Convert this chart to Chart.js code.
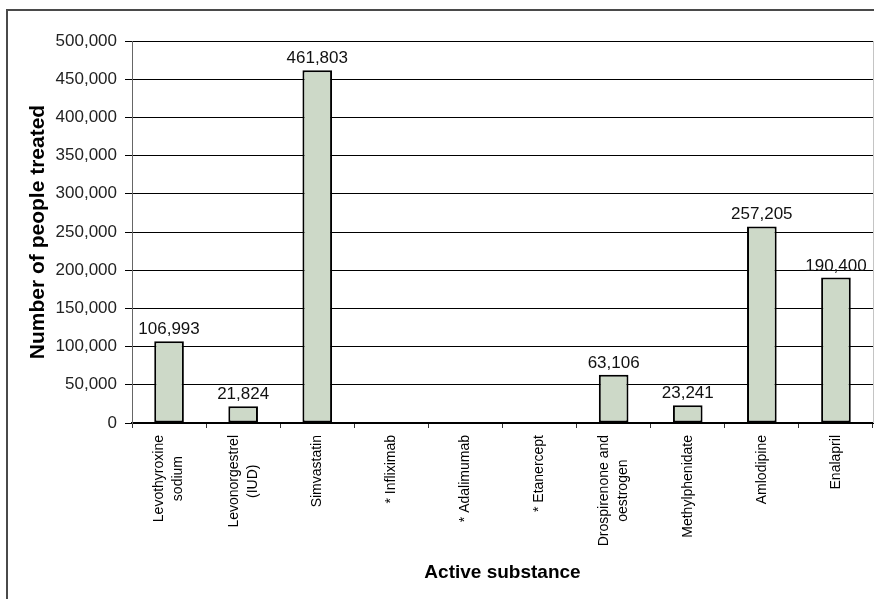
<!DOCTYPE html>
<html>
<head>
<meta charset="utf-8">
<title>Number of people treated by active substance</title>
<script src="https://cdn.jsdelivr.net/npm/chart.js@4/dist/chart.umd.min.js"></script>
<style>
  html, body { margin: 0; padding: 0; background: #ffffff; }
  #wrap { width: 874px; height: 599px; position: relative; }
  canvas { display: block; }
</style>
</head>
<body>
<div id="wrap"><canvas id="chart" width="874" height="599"></canvas></div>
<script>
// Category labels (each entry is the lines of one label)
const substances = [
  ['Levothyroxine', 'sodium'],
  ['Levonorgestrel', '(IUD)'],
  ['Simvastatin'],
  ['* Infliximab'],
  ['* Adalimumab'],
  ['* Etanercept'],
  ['Drospirenone and', 'oestrogen'],
  ['Methylphenidate'],
  ['Amlodipine'],
  ['Enalapril']
];

// Number of people treated per substance (no figure for the starred ones)
const peopleTreated = [106993, 21824, 461803, null, null, null, 63106, 23241, 257205, 190400];

// Value axis range
const yMin = 0;
const yMax = 500000;
const yStep = 50000;

const FONT = "'Liberation Sans', Arial, Helvetica, sans-serif";

function withCommas(n) {
  return String(n).replace(/\B(?=(\d{3})+(?!\d))/g, ',');
}

const decorations = {
  id: 'decorations',
  beforeDraw(chart) {
    const ctx = chart.ctx;
    ctx.save();
    // outer frame (left and top edges)
    ctx.strokeStyle = '#4a4a4a';
    ctx.lineWidth = 2;
    ctx.beginPath();
    ctx.moveTo(7, 599);
    ctx.lineTo(7, 10);
    ctx.lineTo(874, 10);
    ctx.stroke();
    ctx.restore();
  },
  afterDraw(chart) {
    const ctx = chart.ctx;
    const xs = chart.scales.x;
    const area = chart.chartArea;

    // light right edge of the plot area
    ctx.save();
    ctx.strokeStyle = '#c4c4c4';
    ctx.lineWidth = 1;
    ctx.beginPath();
    ctx.moveTo(area.right + 0.5, area.top);
    ctx.lineTo(area.right + 0.5, area.bottom);
    ctx.stroke();
    ctx.restore();

    // rotated category labels, lines centred on each other
    ctx.save();
    ctx.font = '14px ' + FONT;
    ctx.fillStyle = '#000000';
    ctx.textAlign = 'center';
    ctx.textBaseline = 'middle';
    const lineGap = 19;
    chart.data.labels.forEach((lines, i) => {
      const x = xs.getPixelForValue(i);
      const w = Math.max(...lines.map(l => ctx.measureText(l).width));
      const yc = area.bottom + 12 + w / 2;
      ctx.save();
      ctx.translate(x, yc);
      ctx.rotate(-Math.PI / 2);
      lines.forEach((line, j) => {
        ctx.fillText(line, 0, (j - (lines.length - 1) / 2) * lineGap);
      });
      ctx.restore();
    });
    ctx.restore();

    // value labels above the bars
    ctx.save();
    ctx.font = '17px ' + FONT;
    ctx.fillStyle = '#111111';
    ctx.textAlign = 'center';
    ctx.textBaseline = 'alphabetic';
    const meta = chart.getDatasetMeta(0);
    meta.data.forEach((bar, i) => {
      const v = chart.data.datasets[0].data[i];
      if (v === null || v === undefined) return;
      ctx.fillText(withCommas(v), bar.x, bar.y - 7);
    });
    ctx.restore();
  }
};

new Chart(document.getElementById('chart'), {
  type: 'bar',
  data: {
    labels: substances,
    datasets: [{
      data: peopleTreated,
      backgroundColor: '#cdd9c8',
      borderColor: '#000000',
      borderWidth: 2,
      borderSkipped: false,
      categoryPercentage: 1.0,
      barPercentage: 0.4
    }]
  },
  options: {
    responsive: false,
    devicePixelRatio: 1,
    animation: false,
    layout: { padding: { left: 26, top: 41, right: 1, bottom: 15 } },
    plugins: {
      legend: { display: false },
      tooltip: { enabled: false },
      title: { display: false }
    },
    scales: {
      x: {
        type: 'category',
        offset: true,
        afterFit(scale) { scale.height = 161; },
        grid: {
          display: true,
          offset: true,
          drawOnChartArea: false,
          drawTicks: true,
          tickLength: 5,
          color: '#333333',
          lineWidth: 1
        },
        border: { display: true, color: '#000000', width: 2 },
        ticks: { display: false },
        title: {
          display: true,
          text: 'Active substance',
          color: '#000000',
          font: { family: FONT, size: 19, weight: 'bold' },
          padding: 0
        }
      },
      y: {
        min: yMin,
        max: yMax,
        afterFit(scale) { scale.width = 106; },
        grid: {
          color: '#000000',
          lineWidth: 1,
          drawTicks: true,
          tickLength: 7
        },
        border: { display: true, color: '#666666', width: 1 },
        ticks: {
          stepSize: yStep,
          padding: 8,
          color: '#222222',
          font: { family: FONT, size: 17 },
          callback: v => withCommas(v)
        },
        title: {
          display: true,
          text: 'Number of people treated',
          color: '#000000',
          font: { family: FONT, size: 21, weight: 'bold' },
          padding: 0
        }
      }
    }
  },
  plugins: [decorations]
});
</script>
</body>
</html>
